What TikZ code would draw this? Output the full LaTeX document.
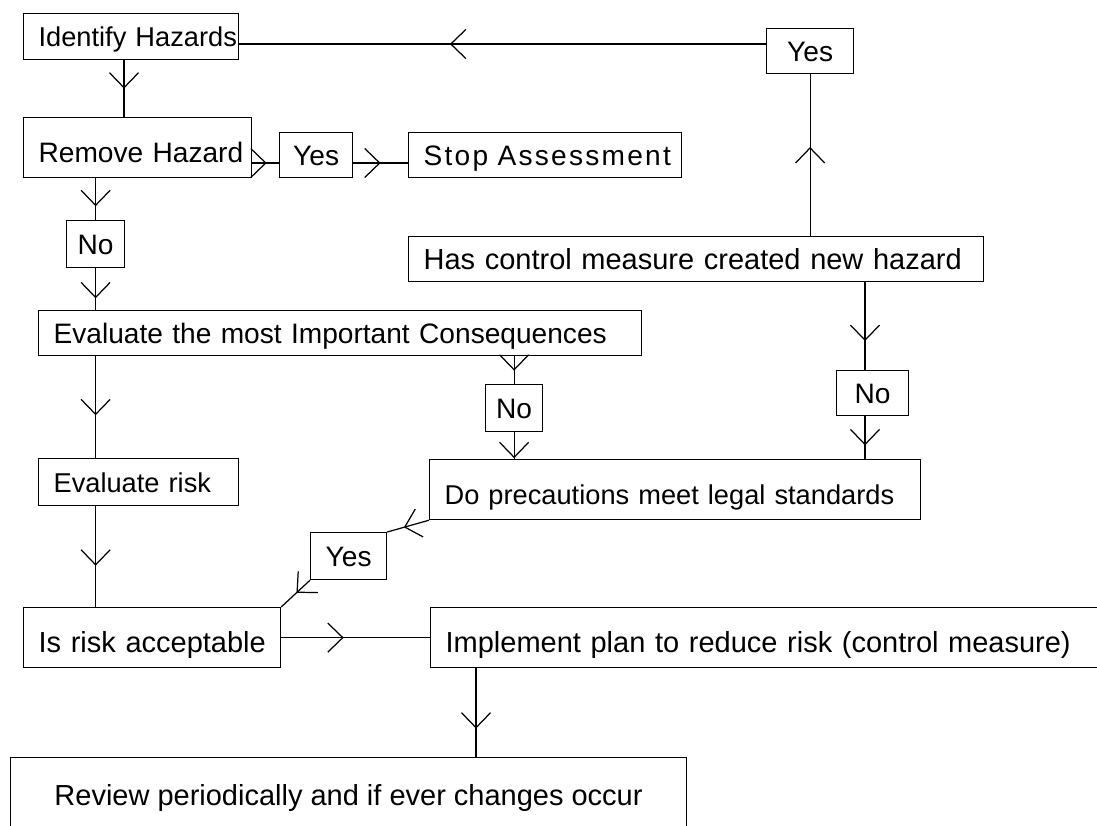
\documentclass[tikz,border=0pt]{standalone}
\usepackage{fontspec}
\setmainfont{Liberation Sans}
\usetikzlibrary{arrows.meta,decorations.markings}

\begin{document}
\begin{tikzpicture}[
		x=0.02cm, y=-0.02cm, line width=0.7pt,
		stepbox/.style={draw, anchor=north west, inner sep=0pt, align=left,
			text height=11.4pt, text depth=0pt, font=\fontsize{16}{19}\selectfont,
			execute at begin node={\hspace*{0.3cm}}},
		tallbox/.style={stepbox, text height=17.4pt},
		plainbox/.style={draw, anchor=north west, inner sep=0pt,
			text height=11.4pt, text depth=0pt, font=\fontsize{16}{19}\selectfont},
		widetext/.style={font=\fontsize{16.5}{19}\selectfont},
		narrowtext/.style={font=\fontsize{15.5}{18}\selectfont},
		chev/.tip={Straight Barb[length=0.3cm, width=0.58cm]},
		flow/.style={postaction={decorate}, decoration={markings,
			mark=at position #1 with {\arrow{chev}}}}
		]
		
		\useasboundingbox (0,0) rectangle (1097,825);
		\clip (0,0) rectangle (1097,825);
		
		\node[stepbox, narrowtext, text width=4.3cm, minimum height=0.92cm](idf) at (23,13){Identify Hazards};
		\node[tallbox, text width=4.56cm, minimum height=1.2cm](rem) at (23,117){Remove Hazard};
		\node[plainbox, minimum width=1.46cm, minimum height=0.9cm](yesrem) at (279,132){Yes};
		\node[stepbox, text width=5.46cm, minimum height=0.9cm,
			font=\fontsize{16}{19}\selectfont\addfontfeature{LetterSpace=8}](stop) at (408,132){Stop Assessment};
		\node[plainbox, minimum width=1.16cm, minimum height=0.94cm](norem) at (66,220){No};
		\node[stepbox, widetext, text width=11.5cm, minimum height=0.9cm](newhaz) at (408,236){Has control measure created new hazard};
		\node[plainbox, minimum width=1.74cm, minimum height=0.9cm](yesnew) at (766,28){Yes};
		\node[stepbox, text width=12.06cm, minimum height=0.9cm](conseq) at (38,310){Evaluate the most Important Consequences};
		\node[plainbox, minimum width=1.14cm, minimum height=0.94cm](nocons) at (485,384){No};
		\node[plainbox, minimum width=1.44cm, minimum height=0.9cm](nonew) at (836,370){No};
		\node[tallbox, narrowtext, text width=9.82cm, minimum height=1.2cm](legal) at (429,459){Do precautions meet legal standards};
		\node[stepbox, narrowtext, text width=4cm, minimum height=0.94cm](risk) at (38,458){Evaluate risk};
		\node[plainbox, minimum width=1.52cm, minimum height=0.94cm](yeslegal) at (310,532){Yes};
		\node[tallbox, widetext, text width=5.14cm, minimum height=1.2cm](accept) at (23,607){Is risk acceptable};
		\node[tallbox, widetext, text width=13.5cm, minimum height=1.2cm](plan) at (430,607){Implement plan to reduce risk (control measure)};
		\node[plainbox, widetext, minimum width=13.52cm, minimum height=1.5cm](review) at (10,757){Review periodically and if ever changes occur};
		
		\draw[flow=0.5] (124,0 |- idf.south) -- (124,0 |- rem.north);
		\draw[flow=0.54] (rem.east |- 0,163) -- (yesrem.west |- 0,163);
		\draw[flow=0.5] (yesrem.east |- 0,163) -- (stop.west |- 0,163);
		\draw[flow=0.67] (norem |- rem.south) -- (norem.north);
		\draw[flow=0.72] (norem.south) -- (norem |- conseq.north);
		\draw[flow=0.58] (norem |- conseq.south) -- (norem |- risk.north);
		\draw[flow=0.59] (norem |- risk.south) -- (norem |- accept.north);
		\draw[flow=0.52] (nocons |- conseq.south) -- (nocons.north);
		\draw[flow=0.97] (nocons.south) -- (nocons |- legal.north);
		\draw[flow=0.67] (865,0 |- newhaz.south) -- (865,0 |- nonew.north);
		\draw[flow=0.68] (865,0 |- nonew.south) -- (865,0 |- legal.north);
		\draw[flow=0.55] (yesnew |- newhaz.north) -- (yesnew.south);
		\draw[flow=0.6] (yesnew.west |- 0,44) -- (idf.east |- 0,44);
		\draw[flow=0.6] (legal.south west) -- (yeslegal.north east);
		\draw[flow=0.47] (yeslegal.south west) -- (accept.north east);
		\draw[flow=0.42] (accept.east) -- (plan.west);
		\draw[flow=0.68] (476,0 |- plan.south) -- (476,0 |- review.north);
	\end{tikzpicture}
\end{document}
